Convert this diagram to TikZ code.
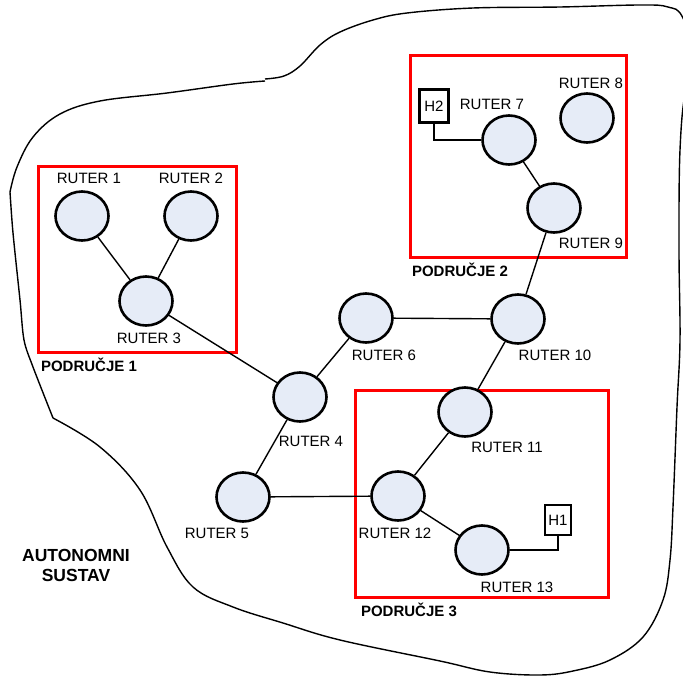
\documentclass[tikz,border=0pt]{standalone}
\usepackage{fontspec}
\setmainfont{Liberation Sans}
\usetikzlibrary{shapes.geometric}
\definecolor{rfill}{RGB}{230,236,247}
\tikzset{
  router/.style={ellipse, draw=black, line width=2.6pt, fill=rfill, minimum width=53pt, minimum height=49pt, inner sep=0pt},
  lbl/.style={inner sep=0pt, font=\fontsize{15}{17}\selectfont},
  area/.style={inner sep=0pt, font=\fontsize{15}{17}\selectfont\bfseries},
  hostbox/.style={rectangle, draw=black, line width=2.4pt, fill=white, inner sep=0pt, font=\fontsize{15}{17}\selectfont},
  link/.style={line width=1.4pt},
  redbox/.style={draw=red, line width=3pt},
  outline/.style={line width=1.4pt}
}
\begin{document}
\begin{tikzpicture}[x=1pt,y=-1pt]
\useasboundingbox (0,0) rectangle (683,675);
\begin{scope}
\clip (0,0) rectangle (683,675);
% autonomous system outline
\draw[outline] plot[smooth, tension=0.6] coordinates {(700,70) (683,18) (668,7) (640,5) (560,7) (473,8) (407,13) (373,20) (340,32) (320,45) (300,66) (284,76) (265,79)};
\draw[outline] plot[smooth, tension=0.6] coordinates {(265,81) (233,84) (167,93) (100,101) (60,114) (33,137) (17,167) (10,192)};
\draw[outline] plot[smooth, tension=0.5] coordinates {(10,192) (13,233) (20,300) (24,340) (33,367) (53,418)};
\draw[outline] plot[smooth, tension=0.6] coordinates {(53,418) (100,447) (140,490) (167,547) (193,587) (233,607) (283,623) (340,640) (440,661) (490,672) (540,675) (573,671) (610,660) (643,637) (663,600) (670,560) (673,507) (677,407) (680,340) (679,250) (680,150) (686,90) (700,70)};
\end{scope}

% areas
\draw[redbox] (38,166) rectangle (236,352);
\draw[redbox] (410,55) rectangle (626,257);
\draw[redbox] (355,390) rectangle (608,597);

% routers
\node[router] (r1) at (82,216) {};
\node[router] (r2) at (191,216) {};
\node[router] (r3) at (146,301) {};
\node[router] (r4) at (300,397) {};
\node[router] (r5) at (243,497) {};
\node[router] (r6) at (366,318) {};
\node[router] (r7) at (509,140) {};
\node[router] (r8) at (587,118) {};
\node[router] (r9) at (554,208) {};
\node[router] (r10) at (518,319) {};
\node[router] (r11) at (465,412) {};
\node[router] (r12) at (398,496) {};
\node[router] (r13) at (482,550) {};

% hosts
\node[hostbox, minimum width=29pt, minimum height=33pt] (h2) at (434,106) {H2};
\node[hostbox, minimum width=26pt, minimum height=30pt] (h1) at (558,520) {H1};

% links
\draw[link] (r1) -- (r3);
\draw[link] (r2) -- (r3);
\draw[link] (r3) -- (r4);
\draw[link] (r4) -- (r6);
\draw[link] (r4) -- (r5);
\draw[link] (r5) -- (r12);
\draw[link] (r6) -- (r10);
\draw[link] (r10) -- (r9);
\draw[link] (r10) -- (r11);
\draw[link] (r11) -- (r12);
\draw[link] (r12) -- (r13);
\draw[link] (r7) -- (r9);
\draw[link] (h2.south) |- (r7.west);
\draw[link] (r13.east) -| (h1.south);

% labels
\node[lbl] (l1) at (89,178) {RUTER 1};
\node[lbl] (l2) at (191,178) {RUTER 2};
\node[lbl] (l3) at (149,338) {RUTER 3};
\node[lbl] (l4) at (311,441) {RUTER 4};
\node[lbl] (l5) at (217,533) {RUTER 5};
\node[lbl] (l6) at (384,355) {RUTER 6};
\node[lbl] (l7) at (492,104) {RUTER 7};
\node[lbl] (l8) at (591,83) {RUTER 8};
\node[lbl] (l9) at (591,243) {RUTER 9};
\node[lbl] (l10) at (555,355) {RUTER 10};
\node[lbl] (l11) at (507,447) {RUTER 11};
\node[lbl] (l12) at (395,533) {RUTER 12};
\node[lbl] (l13) at (517,587) {RUTER 13};

\node[area] (a1) at (89,365) {PODRUČJE 1};
\node[area] (a2) at (460,270) {PODRUČJE 2};
\node[area] (a3) at (409,610) {PODRUČJE 3};

\node[inner sep=0pt, align=center, font=\fontsize{17.5}{20}\selectfont\bfseries] (as) at (76,565) {AUTONOMNI\\SUSTAV};
\end{tikzpicture}
\end{document}
